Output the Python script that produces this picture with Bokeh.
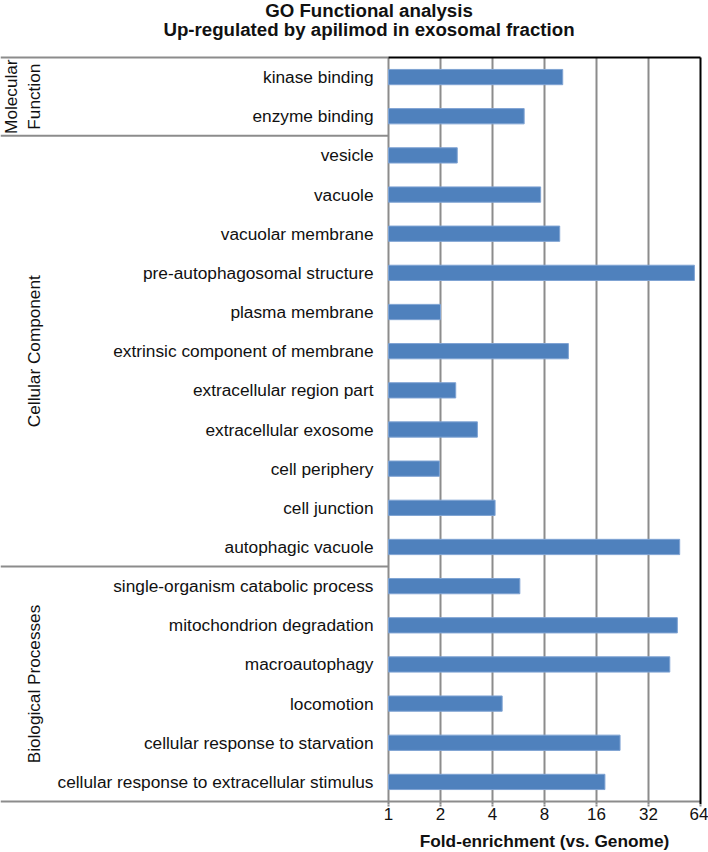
import math
from bokeh.plotting import figure
from bokeh.layouts import column
from bokeh.models import (FactorRange, Range1d, FixedTicker, PrintfTickFormatter,
                          LinearScale, ColumnDataSource)
from bokeh.core.properties import value
from bokeh.embed import file_html
from bokeh.resources import INLINE

# ---------------- data ----------------
TITLE_LINES = ["GO Functional analysis", "Up-regulated by apilimod in exosomal fraction"]
X_LABEL = "Fold-enrichment (vs. Genome)"

GROUP_LABELS = ["Molecular\nFunction", "Cellular Component", "Biological Processes"]

categories_mf = ["kinase binding", "enzyme binding"]
values_mf = [10.2, 6.1]

categories_cc = ["vesicle", "vacuole", "vacuolar membrane", "pre-autophagosomal structure",
                 "plasma membrane", "extrinsic component of membrane", "extracellular region part",
                 "extracellular exosome", "cell periphery", "cell junction", "autophagic vacuole"]
values_cc = [2.5, 7.6, 9.8, 59.0, 2.0, 11.0, 2.45, 3.27, 1.97, 4.14, 48.5]

categories_bp = ["single-organism catabolic process", "mitochondrion degradation", "macroautophagy",
                 "locomotion", "cellular response to starvation",
                 "cellular response to extracellular stimulus"]
values_bp = [5.76, 47.0, 42.5, 4.55, 21.9, 17.9]

TICKS = [1, 2, 4, 8, 16, 32, 64]

# ---------------- layout ----------------
WIDTH = 708
HEADER_H = 54
FRAME_W, FRAME_H = 703, 750
BORDER_R, BORDER_B = 5, 26
FOOTER_H = 852 - HEADER_H - FRAME_H - BORDER_B
PANEL_W = 388          # px from frame left to the value 1
OCT = 52               # px per doubling
PAD_PX = 3
LABEL_X = 373
TITLE_CX = 368.5
TITLE_Y = [9.5, 29]
XLABEL_Y = 10.5        # from top of footer strip
FONT = value("Liberation Sans")
TEXT_COLOR = "#111111"
GRID_COLOR = "#8c8c8c"
BAR_COLOR = "#4F81BD"

groups = [categories_mf, categories_cc, categories_bp]
group_vals = [values_mf, values_cc, values_bp]
cats = [c for g in groups for c in g]
vals = [v for g in group_vals for v in g]
n = len(cats)

cell = (FRAME_H - 2 * PAD_PX) / n
pad = PAD_PX / cell

x_start = TICKS[0] * 2 ** (-PANEL_W / OCT)
right_px = FRAME_W - PANEL_W - OCT * math.log2(TICKS[-1] / TICKS[0])
x_end = TICKS[-1] * 2 ** (right_px / OCT)
x_range = Range1d(x_start, x_end)


def strip(height):
    f = figure(frame_width=FRAME_W, frame_height=height, x_axis_type="log", x_range=x_range,
               y_range=Range1d(height, 0), x_axis_location=None, y_axis_location=None,
               toolbar_location=None, output_backend="svg",
               min_border_left=0, min_border_right=BORDER_R, min_border_top=0, min_border_bottom=0)
    f.outline_line_color = None
    f.xgrid.visible = False
    f.ygrid.visible = False
    f.extra_x_ranges = {"px": Range1d(0, FRAME_W)}
    f.extra_x_scales = {"px": LinearScale()}
    return f


# ---------------- header (title) ----------------
hdr = strip(HEADER_H)
hdr.text(x=[TITLE_CX] * 2, y=TITLE_Y, text=TITLE_LINES, x_range_name="px", text_align="center",
         text_baseline="middle", text_font=FONT, text_font_style="bold",
         text_font_size=value("18.7px"), text_color=TEXT_COLOR)

# ---------------- main chart ----------------
p = figure(frame_width=FRAME_W, frame_height=FRAME_H,
           x_axis_type="log", x_range=x_range,
           y_range=FactorRange(factors=list(reversed(cats)), range_padding=pad,
                               range_padding_units="absolute"),
           y_axis_location=None, toolbar_location=None, output_backend="svg",
           min_border_left=0, min_border_right=BORDER_R,
           min_border_top=0, min_border_bottom=BORDER_B)
p.outline_line_color = None
p.xgrid.visible = False
p.ygrid.visible = False
p.background_fill_color = "white"
p.border_fill_color = "white"

p.extra_x_ranges = {"px": Range1d(0, FRAME_W)}
p.extra_x_scales = {"px": LinearScale()}

# categorical positions with offsets (top edge of a category = +0.5)
top_edge = (cats[0], 0.5)
bottom_edge = (cats[-1], -0.5)
bottom_frame = (cats[-1], -0.5 - pad)
bounds = [top_edge] + [(g[-1], -0.5) for g in groups]
centers = []
for g in groups:
    k = (len(g) - 1) / 2
    centers.append((g[int(k)], -(k - int(k))))

# grid lines (incl. left axis at 1)
m = len(TICKS) - 1
p.segment(x0="x", y0="y0", x1="x", y1="y1", line_color=GRID_COLOR, line_width=2,
          source=ColumnDataSource(dict(x=TICKS[:-1], y0=[bottom_frame] * m, y1=[top_edge] * m)))

# bars
p.hbar(y=cats, left=TICKS[0], right=vals, height=0.39, fill_color=BAR_COLOR,
       line_color="#7FA3D3", line_width=1)

# panel lines (left area)
p.segment(x0="x0", y0="y", x1="x1", y1="y", x_range_name="px", line_color=GRID_COLOR,
          line_width=2,
          source=ColumnDataSource(dict(x0=[0] * len(bounds), x1=[PANEL_W] * len(bounds), y=bounds)))
# bottom axis line under the plot
p.segment(x0="x0", y0="y", x1="x1", y1="y", line_color=GRID_COLOR, line_width=2,
          source=ColumnDataSource(dict(x0=[TICKS[0]], x1=[TICKS[-1]], y=[bottom_edge])))
# black top and right border of plot area
p.segment(x0="x0", y0="y0", x1="x1", y1="y1", line_color="black", line_width=2,
          source=ColumnDataSource(dict(x0=[TICKS[0], TICKS[-1]], x1=[TICKS[-1], TICKS[-1]],
                                       y0=[top_edge, bottom_frame], y1=[top_edge, top_edge])))

# category labels
p.text(x=[LABEL_X] * n, y=cats, text=cats, x_range_name="px",
       text_align="right", text_baseline="middle", text_font=FONT,
       text_font_size=value("17.3px"), text_color=TEXT_COLOR)

# group labels (rotated)
p.text(x="x", y="y", text="t", x_range_name="px",
       angle=math.pi / 2, text_align="center", text_baseline="middle", text_font=FONT,
       text_font_size=value("17.2px"), text_color=TEXT_COLOR, text_line_height=1.15,
       source=ColumnDataSource(dict(x=[22, 33, 33], y=centers, t=GROUP_LABELS)))

# x axis
ax = p.xaxis[0]
ax.ticker = FixedTicker(ticks=TICKS, minor_ticks=[])
ax.formatter = PrintfTickFormatter(format="%d")
ax.axis_line_color = None
ax.major_tick_line_color = GRID_COLOR
ax.major_tick_line_width = 2
ax.major_tick_out = 2
ax.major_tick_in = 0
ax.minor_tick_line_color = None
ax.major_label_standoff = 1
ax.major_label_text_font = "Liberation Sans"
ax.major_label_text_font_size = "17px"
ax.major_label_text_color = TEXT_COLOR

# ---------------- footer (x-axis title, centred on the value axis) ----------------
ftr = strip(FOOTER_H)
ftr.text(x=[math.sqrt(TICKS[0] * TICKS[-1])], y=[XLABEL_Y], text=[X_LABEL],
         text_align="center", text_baseline="middle", text_font=FONT, text_font_style="bold",
         text_font_size=value("17.3px"), text_color=TEXT_COLOR)

layout = column(hdr, p, ftr, spacing=0)
open("out.html", "w").write(file_html(layout, INLINE))
